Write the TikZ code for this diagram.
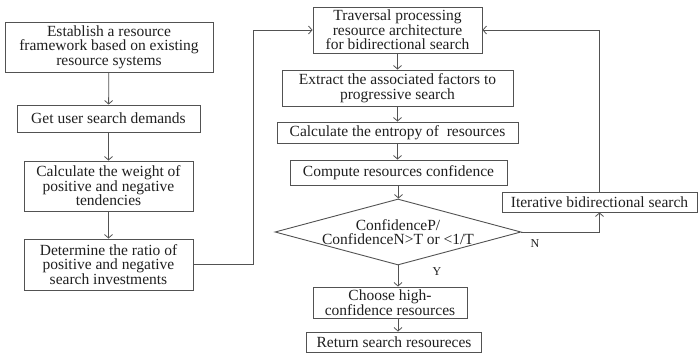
\documentclass[tikz,border=0pt]{standalone}
\usepackage{fontspec}
\setmainfont{Liberation Serif}
\usetikzlibrary{shapes.geometric}
\usetikzlibrary{arrows.meta}
\definecolor{linegrey}{rgb}{0.32,0.32,0.32}
\definecolor{textgrey}{rgb}{0.12,0.12,0.12}

\begin{document}
\begin{tikzpicture}[
x=1pt, y=-1pt,
box/.style ={shape=rectangle, draw=linegrey, line width=0.9pt, align=center, inner sep=0pt, text=textgrey, font=\fontsize{15.5}{14.5}\selectfont},
decision/.style ={shape=diamond, draw=linegrey, line width=0.9pt, inner sep=0pt},
flow/.style ={draw=linegrey, line width=0.8pt, -{Straight Barb[length=3.5pt,width=8pt]}},
yesno/.style ={text=textgrey, font=\fontsize{12}{12}\selectfont}]
\useasboundingbox (0,0) rectangle (698,355);
% left column
\node[box, minimum width=208pt, minimum height=50pt] (est) at (109,47) {Establish a resource\\framework based on existing\\resource systems};
\node[box, minimum width=183pt, minimum height=27pt] (get) at (108.5,118.5) {Get user search demands};
\node[box, minimum width=169pt, minimum height=50pt] (wgt) at (108.5,186) {Calculate the weight of\\positive and negative\\tendencies};
\node[box, minimum width=169pt, minimum height=51pt] (det) at (108.5,264.5) {Determine the ratio of\\positive and negative\\search investments};
% middle column
\node[box, minimum width=169pt, minimum height=46pt] (trav) at (397.5,30) {Traversal processing\\resource architecture\\for bidirectional search};
\node[box, minimum width=231pt, minimum height=36pt] (extr) at (397.5,88) {Extract the associated factors to\\progressive search};
\node[box, minimum width=241pt, minimum height=21pt] (entr) at (397.5,132.5) {Calculate the entropy of~ resources};
\node[box, minimum width=217pt, minimum height=25pt] (conf) at (398.5,172.5) {Compute resources confidence};
\node[decision, minimum width=246pt, minimum height=66pt] (dia) at (398,232) {};
\node[box, draw=none] (diatext) at (dia.center) {ConfidenceP/\\ConfidenceN>T or <1/T};
\node[box, minimum width=154pt, minimum height=31pt] (choose) at (390,302.5) {Choose high-\\confidence resources};
\node[box, minimum width=175pt, minimum height=20pt] (ret) at (394,342) {Return search resoureces};
% right
\node[box, minimum width=195pt, minimum height=20pt] (iter) at (599.5,202) {Iterative bidirectional search};
\node[yesno] (ylbl) at (437,272) {Y};
\node[yesno] (nlbl) at (535,244) {N};

\draw[flow] (est) -- (get);
\draw[flow] (get) -- (wgt);
\draw[flow] (wgt) -- (det);
\draw[flow] (det.east) -- ++(60,0) |- (trav.west);
\draw[flow] (trav) -- (extr);
\draw[flow] (extr) -- (entr);
\draw[flow] (entr.south) -- (entr.south |- conf.north);
\draw[flow] (conf.south) -- (conf.south |- dia.north);
\draw[flow] (dia.south) -- (dia.south |- choose.north);
\draw[flow] (choose.south -| dia.south) -- (dia.south |- ret.north);
\draw[flow] (dia.east) -| (iter.south);
\draw[flow] (iter.north) |- (trav.east);
\end{tikzpicture}
\end{document}
